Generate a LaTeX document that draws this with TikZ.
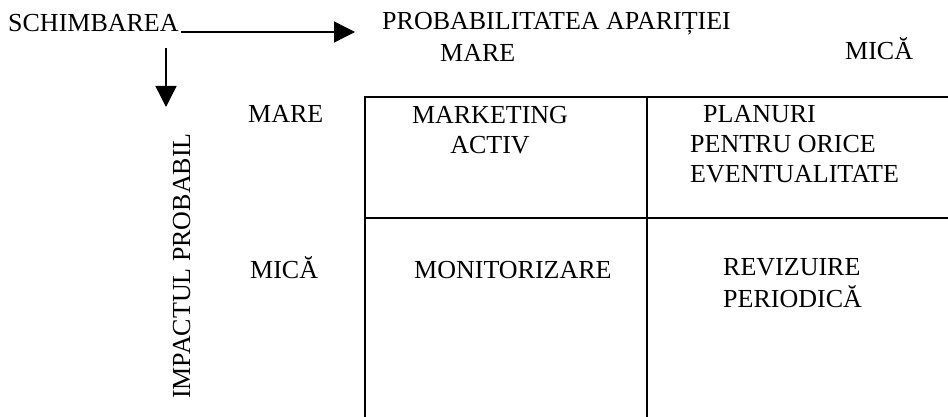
\documentclass[tikz,border=0pt]{standalone}
\usepackage{fontspec}
\setmainfont{Liberation Serif}
\usetikzlibrary{arrows.meta}

\begin{document}
\begin{tikzpicture}[x=1pt,y=-1pt,
  lbl/.style={inner sep=0pt,font=\fontsize{26}{30}\selectfont},
  arr/.style={line width=1.4pt,-{Triangle[width=21pt,length=21pt]}},
  cellline/.style={line width=1.3pt}]
  \useasboundingbox (0,0) rectangle (948,417);
  \node[lbl,anchor=base west] (S) at (8,32) {SCHIMBAREA};
  \node[lbl,anchor=base west] (P) at (382,30) {PROBABILITATEA APARIȚIEI};
  \node[lbl,anchor=base west] (PM) at (440,62) {MARE};
  \node[lbl,anchor=base west] (PN) at (845,60) {MICĂ};
  \node[lbl,anchor=base west] (IM) at (248,123) {MARE};
  \node[lbl,anchor=base west] (IN) at (250,278) {MICĂ};
  \node[lbl,anchor=base,rotate=90] (I) at (190,266) {IMPACTUL PROBABIL};
  \coordinate (HA) at (355,32);
  \coordinate (VA) at (166,48);
  \coordinate (VB) at (166,107);
  \draw[arr] ([xshift=2pt]S.base east) -- (HA);
  \draw[arr] (VA) -- (VB);
  \coordinate (TL) at (365,97);
  \coordinate (TM) at (647,97);
  \coordinate (TR) at (948,97);
  \coordinate (ML) at (365,218);
  \coordinate (MR) at (948,218);
  \coordinate (BL) at (365,417);
  \coordinate (BM) at (647,417);
  \draw[cellline] (BL) -- (TL) -- (TR);
  \draw[cellline] (TM) -- (BM);
  \draw[cellline] (ML) -- (MR);
  \node[lbl,anchor=north,align=center] (C11) at (490,106) {MARKETING\\ACTIV};
  \node[lbl,anchor=north west,align=left] (C12) at (690,105)
    {\hspace*{13pt}PLANURI\\PENTRU ORICE\\EVENTUALITATE};
  \node[lbl,anchor=base west] (C21) at (414,278) {MONITORIZARE};
  \node[lbl,anchor=north west,align=left] (C22) at (723,258) {REVIZUIRE\\[2pt]PERIODICĂ};
\end{tikzpicture}
\end{document}
